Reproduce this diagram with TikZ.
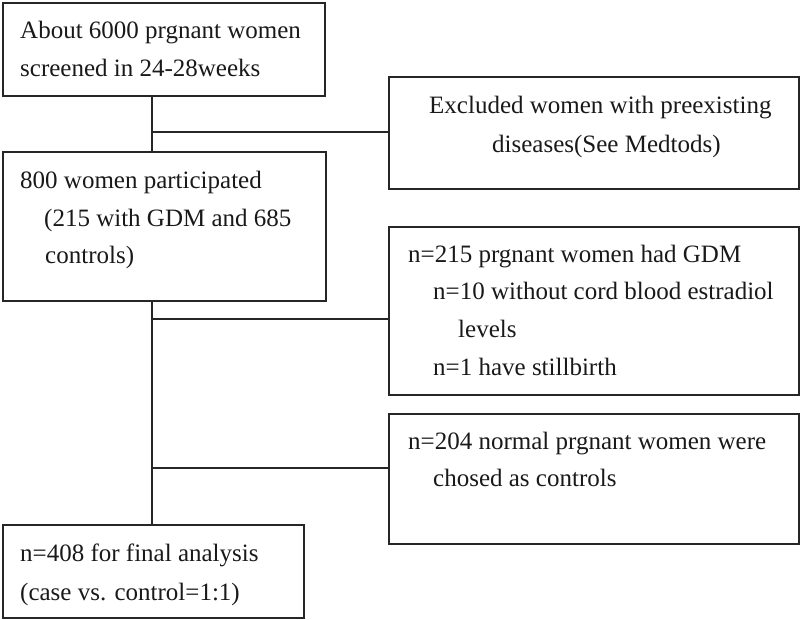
\documentclass[tikz,border=0pt]{standalone}
\usepackage{fontspec}
\setmainfont{Liberation Serif}
\begin{document}
\begin{tikzpicture}[x=1pt,y=-1pt,
  box/.style={draw=black!85, line width=1.6pt, inner sep=0pt, anchor=north west},
  txt/.style={anchor=base west, inner sep=0pt, font=\fontsize{25}{30}\selectfont, text=black!90},
  link/.style={draw=black!85, line width=1.4pt}]
\path[use as bounding box] (0,0) rectangle (800,619);
% boxes
\node[box, minimum width=322pt, minimum height=93pt] (b1) at (2,2) {};
\node[box, minimum width=410pt, minimum height=112pt] (b2) at (388,76) {};
\node[box, minimum width=323pt, minimum height=149pt] (b3) at (2,151) {};
\node[box, minimum width=410pt, minimum height=168pt] (b4) at (388,226) {};
\node[box, minimum width=410pt, minimum height=130pt] (b5) at (388,413) {};
\node[box, minimum width=301pt, minimum height=93pt] (b6) at (2,524) {};
% texts
\node[txt] (t1a) at (20,38) {About 6000 prgnant women};
\node[txt] (t1b) at (20,76) {screened in 24-28weeks};
\node[txt] (t2a) at (429,113) {Excluded women with preexisting};
\node[txt] (t2b) at (492,152) {diseases(See Medtods)};
\node[txt] (t3a) at (20,188) {800 women participated};
\node[txt] (t3b) at (44,226) {(215 with GDM and 685};
\node[txt] (t3c) at (45,263) {controls)};
\node[txt] (t4a) at (408,262) {n=215 prgnant women had GDM};
\node[txt] (t4b) at (433,299) {n=10 without cord blood estradiol};
\node[txt] (t4c) at (458,337) {levels};
\node[txt] (t4d) at (433,375) {n=1 have stillbirth};
\node[txt] (t5a) at (408,449) {n=204 normal prgnant women were};
\node[txt] (t5b) at (433,486) {chosed as controls};
\node[txt] (t6a) at (20,561) {n=408 for final analysis};
\node[txt] (t6b) at (20,600) {(case vs. control=1:1)};
% junctions
\coordinate (j1) at (152,132);
\coordinate (j2) at (152,319);
\coordinate (j3) at (152,468);
% connectors
\draw[link] (b1.south -| j1) -- (b3.north -| j1);
\draw[link] (j1) -- (b2.west |- j1);
\draw[link] (b3.south -| j2) -- (b6.north -| j2);
\draw[link] (j2) -- (b4.west |- j2);
\draw[link] (j3) -- (b5.west |- j3);
\end{tikzpicture}
\end{document}
